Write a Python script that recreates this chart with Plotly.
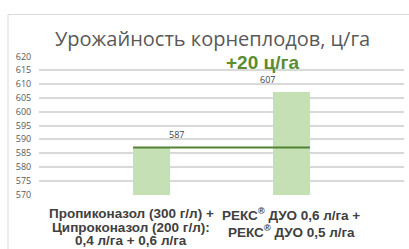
import plotly.graph_objects as go

categories = [["Пропиконазол (300 г/л) +", "Ципроконазол (200 г/л):", "0,4 л/га + 0,6 л/га"],
              ["РЕКС<sup>®</sup> ДУО 0,6 л/га +", "РЕКС<sup>®</sup> ДУО 0,5 л/га"]]
values = [587, 607]
y_ticks = [570, 575, 580, 585, 590, 595, 600, 605, 610, 615, 620]
title = "Урожайность корнеплодов, ц/га"
gain_label = "+20 ц/га"

bar_w = 0.264
xs = list(range(len(values)))

W, H = 409, 249
ml, mr, mt, mb = 39, 5, 55.7, 53.7
pw, ph = W - ml - mr, H - mt - mb


def py(px):
    """pixel row from top -> paper y"""
    return (H - mb - px) / ph


fig = go.Figure()
fig.add_trace(go.Bar(x=xs, y=values, width=bar_w, marker_color="#C5E0B4",
                     marker_line_width=0, showlegend=False, hoverinfo="skip"))
fig.add_trace(go.Scatter(x=[xs[0] - bar_w / 2, xs[-1] + bar_w / 2], y=[values[0], values[0]],
                         mode="lines", line=dict(color="#548235", width=2), showlegend=False))

# value labels
for xv, v, sh in zip([xs[0] + 0.18, xs[1] - 0.17], values, [5, 4]):
    fig.add_annotation(x=xv, y=v, text=str(v), showarrow=False, yanchor="bottom", yshift=sh,
                       xanchor="center",
                       font=dict(family="Open Sans", size=9, color="#404040"))

fig.add_annotation(x=0.79, y=617.9, text="<b>" + gain_label + "</b>", showarrow=False,
                   xanchor="center", yanchor="middle",
                   font=dict(family="Liberation Sans", size=19, color="#5B8C2E"))

fig.add_annotation(x=(212 - ml) / pw, y=py(38), xref="paper", yref="paper", text=title,
                   showarrow=False, xanchor="center", yanchor="middle",
                   font=dict(family="Open Sans", size=20, color="#595959"))

# category labels (one annotation per line for tight spacing)
label_x = [xs[0] - 0.145, xs[1]]
line_rows = [[214, 227.5, 241], [214, 231]]
for lx, lines, rows in zip(label_x, categories, line_rows):
    for t, r in zip(lines, rows):
        fig.add_annotation(x=lx, y=py(r), xref="x", yref="paper", text="<b>" + t + "</b>",
                           showarrow=False, xanchor="center", yanchor="middle",
                           font=dict(family="Liberation Sans", size=13.5, color="#404040"))

# frame lines
fx = (8 - ml) / pw
fy = py(14)
fig.add_shape(type="line", xref="paper", yref="paper", x0=fx, x1=fx, y0=fy, y1=-1,
              line=dict(color="#D9D9D9", width=1))
fig.add_shape(type="line", xref="paper", yref="paper", x0=fx, x1=2, y0=fy, y1=fy,
              line=dict(color="#D9D9D9", width=1))

fig.update_layout(
    width=W, height=H, margin=dict(l=ml, r=mr, t=mt, b=mb, autoexpand=False),
    paper_bgcolor="white", plot_bgcolor="white",
    bargap=0,
    xaxis=dict(range=[-0.804, 1.804], showticklabels=False,
               showgrid=False, zeroline=False, showline=False, automargin=False),
    yaxis=dict(range=[569.8, 620.2], tickvals=y_ticks, showgrid=True, gridcolor="#D9D9D9",
               gridwidth=1.5, zeroline=False, showline=False, ticks="outside", ticklen=5,
               tickcolor="rgba(0,0,0,0)", automargin=False,
               tickfont=dict(family="Open Sans", size=9, color="#595959")),
)

fig.write_html("out.html", config={"displayModeBar": False},
               post_script="document.body.style.margin='0';")
